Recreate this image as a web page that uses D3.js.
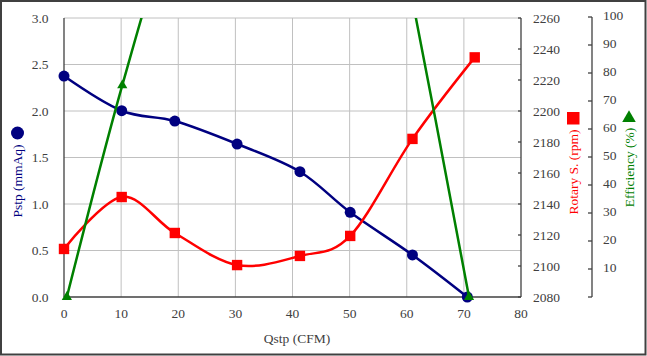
<!DOCTYPE html>
<html><head><meta charset="utf-8">
<script src="https://cdn.jsdelivr.net/npm/d3@7"></script>
<style>
html,body{margin:0;padding:0;background:#fff;}
svg text{font-family:"Liberation Serif","Times New Roman",serif;}
</style></head>
<body><svg id="c" width="647" height="356"></svg>
<script>
// ---- data ----
const qPstp = [0, 10.1, 19.4, 30.3, 41.3, 50.1, 61.0, 70.6];
const pstp  = [2.376, 2.003, 1.892, 1.645, 1.347, 0.911, 0.452, 0];
const qRpm  = [0, 10.1, 19.4, 30.3, 41.3, 50.1, 61.0, 71.9];
const rpm   = [2111, 2144.5, 2121.3, 2100.6, 2106.5, 2119.4, 2182, 2234.6];
const qEff  = [0.5, 10.2, 19.4, 30.3, 41.3, 50.1, 61.0, 70.9];
const eff   = [0, 75.6, 136, 180, 205, 215, 106, 0];
const xTicks = [0,10,20,30,40,50,60,70,80];
const yLTicks = [0,0.5,1.0,1.5,2.0,2.5,3.0];
const yRTicks = [2080,2100,2120,2140,2160,2180,2200,2220,2240,2260];
const yETicks = [0,10,20,30,40,50,60,70,80,90,100];

const svg = d3.select("#c");
const L=64, R=521, T=18, B=297;
const x = d3.scaleLinear().domain([0,80]).range([L,R]);
const yL = d3.scaleLinear().domain([0,3]).range([B,T]);
const yR = d3.scaleLinear().domain([2080,2260]).range([B,T]);
const yE = d3.scaleLinear().domain([0,100]).range([B,17]);
const FS = "13.5px", TC = "#404040";

// frame
svg.append("rect").attr("x",1).attr("y",1).attr("width",644.5).attr("height",353.5)
  .attr("fill","none").attr("stroke","#404040").attr("stroke-width",2);

// gridlines
svg.append("g").selectAll("line").data(xTicks.slice(1,-1)).join("line")
  .attr("x1",d=>x(d)).attr("x2",d=>x(d)).attr("y1",T).attr("y2",B)
  .attr("stroke","#c0c0c0").attr("stroke-width",1);
svg.append("g").selectAll("line").data(yLTicks.slice(1)).join("line")
  .attr("x1",L).attr("x2",R).attr("y1",d=>yL(d)).attr("y2",d=>yL(d))
  .attr("stroke","#c0c0c0").attr("stroke-width",1);

// axes lines
svg.append("line").attr("x1",L).attr("x2",L).attr("y1",T).attr("y2",B).attr("stroke","#404040").attr("stroke-width",1.3);
svg.append("line").attr("x1",L).attr("x2",R).attr("y1",B).attr("y2",B).attr("stroke","#404040").attr("stroke-width",1.3);
svg.append("line").attr("x1",R).attr("x2",R).attr("y1",T).attr("y2",B).attr("stroke","#404040").attr("stroke-width",1.3);

// x tick labels
svg.append("g").selectAll("text").data(xTicks).join("text")
  .attr("x",d=>x(d)).attr("y",318).attr("text-anchor","middle")
  .attr("font-size",FS).attr("fill",TC).text(d=>d);
// left tick labels
svg.append("g").selectAll("text").data(yLTicks).join("text")
  .attr("x",48.5).attr("y",d=>yL(d)+4.5).attr("text-anchor","end")
  .attr("font-size",FS).attr("fill",TC).text(d=>d3.format(".1f")(d));
// right rpm ticks
svg.append("g").selectAll("line").data(yRTicks).join("line")
  .attr("x1",R-3).attr("x2",R).attr("y1",d=>yR(d)).attr("y2",d=>yR(d))
  .attr("stroke","#404040").attr("stroke-width",1.3);
svg.append("g").selectAll("text").data(yRTicks).join("text")
  .attr("x",533).attr("y",d=>yR(d)+4.5).attr("text-anchor","start")
  .attr("font-size",FS).attr("fill",TC).text(d=>d);
// efficiency axis
const EX = 592;
svg.append("line").attr("x1",EX).attr("x2",EX).attr("y1",yE(100)).attr("y2",yE(0)).attr("stroke","#404040").attr("stroke-width",1.3);
svg.append("g").selectAll("line").data(yETicks).join("line")
  .attr("x1",EX-4).attr("x2",EX).attr("y1",d=>yE(d)).attr("y2",d=>yE(d))
  .attr("stroke","#404040").attr("stroke-width",1.3);
svg.append("g").selectAll("text").data(yETicks.filter(d=>d>0)).join("text")
  .attr("x",603).attr("y",d=>yE(d)+3).attr("text-anchor","start")
  .attr("font-size",FS).attr("fill",TC).text(d=>d);

// clip
svg.append("clipPath").attr("id","plot").append("rect")
  .attr("x",L).attr("y",T).attr("width",R-L).attr("height",B-T+2);

const curve = d3.curveCardinal.tension(0);
function series(qs, vs, ys, color){
  const pts = qs.map((q,i)=>[x(q), ys(vs[i])]);
  svg.append("path").attr("d", d3.line().curve(curve)(pts))
    .attr("fill","none").attr("stroke",color).attr("stroke-width",2.5)
    .attr("clip-path","url(#plot)");
  return pts;
}
const pB = series(qPstp, pstp, yL, "#000080");
svg.append("g").selectAll("circle").data(pB).join("circle")
  .attr("cx",d=>d[0]).attr("cy",d=>d[1]).attr("r",5.5).attr("fill","#000080");
const pR = series(qRpm, rpm, yR, "#ff0000");
svg.append("g").selectAll("rect").data(pR).join("rect")
  .attr("x",d=>d[0]-5.2).attr("y",d=>d[1]-5.2).attr("width",10.4).attr("height",10.4).attr("fill","#ff0000");
const pE = series(qEff, eff, yE, "#008000");
const tri = d3.symbol().type(d3.symbolTriangle).size(45);
svg.append("g").selectAll("path").data(pE.filter((d,i)=>eff[i]<=100)).join("path")
  .attr("d",tri).attr("transform",d=>`translate(${d[0]},${d[1]})`).attr("fill","#008000");

// axis titles
svg.append("text").attr("x",297).attr("y",343).attr("text-anchor","middle")
  .attr("font-size",FS).attr("fill",TC).text("Qstp (CFM)");
svg.append("text").attr("transform","translate(22,181) rotate(-90)").attr("text-anchor","middle")
  .attr("font-size",FS).attr("fill","#000080").text("Pstp (mmAq)");
svg.append("circle").attr("cx",17.5).attr("cy",133).attr("r",6.5).attr("fill","#000080");
svg.append("text").attr("transform","translate(578,172) rotate(-90)").attr("text-anchor","middle")
  .attr("font-size",FS).attr("fill","#ff0000").text("Rotary S. (rpm)");
svg.append("rect").attr("x",567).attr("y",112).attr("width",12.5).attr("height",12.5).attr("fill","#ff0000");
svg.append("text").attr("transform","translate(634,167.5) rotate(-90)").attr("text-anchor","middle")
  .attr("font-size",FS).attr("fill","#008000").text("Efficiency (%)");
svg.append("path").attr("d",d3.symbol().type(d3.symbolTriangle).size(80))
  .attr("transform","translate(629,118)").attr("fill","#008000");
</script></body></html>
